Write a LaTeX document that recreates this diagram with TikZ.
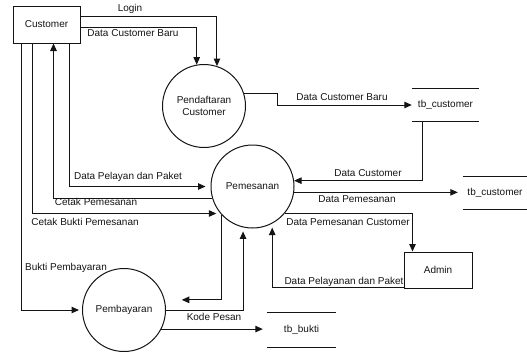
\documentclass[tikz,border=0pt]{standalone}
\usepackage{fontspec}
\setmainfont{Liberation Sans}
\usetikzlibrary{arrows.meta,calc,positioning}
\definecolor{DfdInk}{HTML}{141414}
\tikzset{
  every node/.style={font=\fontsize{10}{11.5}\selectfont, text=DfdInk},
  entity/.style={draw=DfdInk, line width=1pt, minimum width=67pt, minimum height=37pt},
  process/.style={circle, draw=DfdInk, line width=1pt, minimum size=83pt, inner sep=0pt, align=center},
  store/.style={minimum width=67pt, minimum height=33pt, inner sep=0pt},
  flow/.style={-{Triangle[length=7.5pt,width=6.5pt]}, draw=DfdInk, line width=1pt},
  flowtext/.style={inner sep=1pt},
}

\begin{document}
\begin{tikzpicture}[x=1pt,y=-1pt]
  \useasboundingbox (0,0) rectangle (527,354);
  % external entities
  \node[entity] (cust) at (46.5,24.5) {Customer};
  \node[entity, minimum width=68pt, minimum height=36pt] (admin) at (438,270) {Admin};
  % processes
  \node[process] (daftar) at (204,106) {Pendaftaran\\Customer};
  \node[process] (pesan) at (252.5,186.5) {Pemesanan};
  \node[process] (bayar) at (124,310) {Pembayaran};
  % data stores
  \node[store] (tbc1) at (445.5,105) {tb\_customer};
  \node[store, minimum width=64pt, minimum height=32pt] (tbc2) at (495,193) {tb\_customer};
  \node[store, minimum width=69pt, minimum height=34pt] (tbb) at (301.5,330) {tb\_bukti};
  \foreach \s in {tbc1,tbc2,tbb} {
    \draw[DfdInk, line width=1pt] (\s.north west) -- (\s.north east) (\s.south west) -- (\s.south east);
  }
  % flows of the customer
  \draw[flow] ($(cust.east)+(0,-8.5)$) -| (daftar.72);
  \draw[flow] ($(cust.east)+(0,2.5)$) -| (daftar.100);
  \draw[flow, shorten >=3pt] ($(cust.south west)+(9,0)$) |- (bayar.west);
  \draw[flow, shorten >=4pt] ($(cust.south west)+(20,0)$) |- (pesan.-140);
  \draw[flow] (pesan.-164) -| ($(cust.south west)+(41,0)$);
  \draw[flow, shorten >=5pt] ($(cust.south west)+(57,0)$) |- (pesan.west);
  % flows to the stores and the admin
  \draw[flow] (daftar.18) -- ++(34,0) |- (tbc1.west);
  \draw[flow] ($(tbc1.south west)+(11,0)$) |- (pesan.8);
  \draw[flow, shorten >=5pt] (pesan.-8) -- (pesan.-8 -| tbc2.west);
  \draw[flow] (pesan.-40) -| ($(admin.north west)+(9,0)$);
  \draw[flow, shorten >=4pt] ($(admin.south west)+(0,-1)$) -| (pesan.-62);
  % payment
  \draw[flow, shorten >=17pt] (pesan.-137) |- (bayar.14);
  \draw[flow, shorten >=4pt] (bayar.east) -| (pesan.-103);
  \draw[flow, shorten >=4pt] (bayar.-27) -- (bayar.-27 -| tbb.west);
  % flow names
  \node[flowtext] (tLogin) at (130,9) {Login};
  \node[flowtext] (tBaruA) at (133,33) {Data Customer Baru};
  \node[flowtext] (tBaruB) at (342,97) {Data Customer Baru};
  \node[flowtext] (tDatCust) at (368,173) {Data Customer};
  \node[flowtext] (tDatPes) at (357,199) {Data Pemesanan};
  \node[flowtext] (tPesCust) at (348,222) {Data Pemesanan Customer};
  \node[flowtext] (tPelayanan) at (344,282) {Data Pelayanan dan Paket};
  \node[flowtext] (tPelayan) at (128,177) {Data Pelayan dan Paket};
  \node[flowtext] (tCetak) at (96,202) {Cetak Pemesanan};
  \node[flowtext] (tCetakBukti) at (85,222) {Cetak Bukti Pemesanan};
  \node[flowtext] (tBukti) at (66,268) {Bukti Pembayaran};
  \node[flowtext] (tKode) at (214,317) {Kode Pesan};
\end{tikzpicture}
\end{document}
